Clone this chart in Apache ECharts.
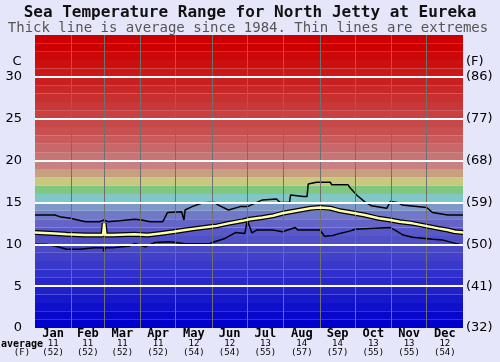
<!DOCTYPE html>
<html><head><meta charset="utf-8">
<script src="https://cdn.jsdelivr.net/npm/echarts@6/dist/echarts.min.js"></script>
<style>html,body{margin:0;padding:0;background:#e6e6fa}#c{width:500px;height:362px}</style>
</head><body><div id="c"></div>
<script>
// ---- data ----
const months = ['Jan','Feb','Mar','Apr','May','Jun','Jul','Aug','Sep','Oct','Nov','Dec'];
const monthDays = [31,28,31,30,31,30,31,31,30,31,30,31];
const avgC = [11,11,11,11,12,12,13,14,14,13,13,12];
const avgF = [52,52,52,52,54,54,55,57,57,55,55,54];
const leftTicks = [0,5,10,15,20,25,30];
const rightTicks = ['(32)','(41)','(50)','(59)','(68)','(77)','(86)'];

const avgDays = [0,17,27,43,58,59,60,66,85,96,107,118,128,138,149,155,165,177,183,194,203,211,223,235,243,252,260,269,281,293,303,311,322,333,344,352,358,365];
const avgTemps = [11.4,11.3,11.2,11.1,11.1,12.5,11.1,11.1,11.2,11.1,11.3,11.5,11.7,11.9,12.1,12.2,12.5,12.8,13.0,13.2,13.4,13.7,14.0,14.3,14.4,14.3,14.0,13.8,13.5,13.1,12.9,12.7,12.5,12.2,11.9,11.7,11.5,11.4];

const maxDays = [0,17,21,30,43,55,59,62,72,85,91,98,109,113,125,126,127,128,134,142,148,153,156,165,175,181,194,206,209,217,218,229,232,233,240,252,253,267,269,275,281,287,300,303,309,313,334,339,352,365];
const maxTemps = [13.5,13.5,13.3,13.1,12.7,12.7,12.9,12.7,12.8,13.0,12.9,12.7,12.7,13.8,13.9,13.9,12.9,14.1,14.5,14.9,15.0,15.0,14.7,14.1,14.5,14.5,15.3,15.4,15.0,15.0,15.9,15.7,15.7,17.2,17.4,17.4,17.1,17.1,16.7,15.8,15.1,14.6,14.3,15.1,15.0,14.7,14.4,13.8,13.5,13.5];

const minDays = [0,9,17,27,38,51,58,59,60,66,81,85,94,102,115,128,148,153,162,171,179,181,185,189,203,211,222,224,243,247,254,260,269,273,303,307,314,322,339,348,356,365];
const minTemps = [10.0,10.0,9.8,9.4,9.4,9.6,9.6,9.1,9.6,9.6,9.8,10.1,9.7,10.2,10.3,10.05,10.05,10.3,10.7,11.4,11.3,12.9,11.35,11.7,11.7,11.5,12.0,11.7,11.7,10.95,11.05,11.3,11.6,11.8,12.0,11.7,11.1,10.85,10.6,10.5,10.2,9.9];

// background band colours, one per degree C (0..34)
const bandColors = ['#0000cc','#0808cc','#1010cc','#1818cc','#2020cc','#2828ca','#3030ca','#3838ca','#4040c8','#4848c8','#5050c8','#5858c8','#6464c8','#7078c8','#7c98c8','#80c8c8','#80c880','#c8c880','#c8a080','#c88080','#c87474','#c86868','#c85c5c','#c85050','#c84848','#c84040','#c83838','#c83030','#c82828','#c82020','#cc1818','#cc1010','#cc0808','#cc0000','#cc0000'];

// ---- build ----
const monthStarts = [];
const monthMids = [];
let acc = 0;
monthDays.forEach(d => { monthStarts.push(acc); monthMids.push(acc + d/2); acc += d; });

const zip = (a,b) => a.map((v,i)=>[v,b[i]]);
const bandAreas = bandColors.map((c,i)=>[{yAxis:i,itemStyle:{color:c}},{yAxis:i+1}]);

const chart = echarts.init(document.getElementById('c'), null, {renderer:'canvas'});
chart.setOption({
  animation:false,
  backgroundColor:'#e6e6fa',
  grid:{left:35,right:37,top:35,bottom:34},
  xAxis:{type:'value',min:0,max:365,
    axisLine:{show:false},axisTick:{show:false},splitLine:{show:false},
    axisLabel:{customValues:monthMids,margin:1,interval:0,
      formatter:function(v){const i=monthMids.indexOf(v);return '{m|'+months[i]+'}\n{n|'+avgC[i]+'}\n{n|('+avgF[i]+')}';},
      rich:{m:{fontFamily:'DejaVu Sans Mono',fontWeight:'bold',fontSize:12,lineHeight:10,color:'#000'},
            n:{fontFamily:'DejaVu Sans Mono',fontSize:9,lineHeight:9,color:'#000'}}}},
  yAxis:[
    {type:'value',min:0,max:35,interval:5,axisLine:{show:false},axisTick:{show:false},splitLine:{show:false},
     axisLabel:{margin:13,fontFamily:'DejaVu Sans',fontSize:13,color:'#000',
       formatter:function(v){return leftTicks.indexOf(v)>=0?String(v):'';}}},
    {type:'value',min:0,max:35,interval:5,position:'right',axisLine:{show:false},axisTick:{show:false},splitLine:{show:false},
     axisLabel:{margin:3,fontFamily:'DejaVu Sans',fontSize:13,color:'#000',
       formatter:function(v){const i=leftTicks.indexOf(v);return i>=0?rightTicks[i]:'';}}}
  ],
  series:[
    {type:'line',data:[[0,0]],symbol:'none',lineStyle:{opacity:0},silent:true,z:1,
     markArea:{silent:true,data:bandAreas}},
    {type:'line',data:[[0,0]],symbol:'none',lineStyle:{opacity:0},silent:true,z:2,
     markLine:{silent:true,symbol:'none',label:{show:false},
       data:monthStarts.slice(1).map(d=>({xAxis:d,lineStyle:{color:'#707070',width:1,type:'solid'}}))
         .concat(leftTicks.slice(1).map(t=>({yAxis:t,lineStyle:{color:'#ffffff',width:2,type:'solid'}})))}},
    {type:'line',data:zip(maxDays,maxTemps),symbol:'none',lineStyle:{color:'#000',width:1.5},z:3},
    {type:'line',data:zip(minDays,minTemps),symbol:'none',lineStyle:{color:'#000',width:1.5},z:3},
    {type:'line',data:zip(avgDays,avgTemps),symbol:'none',lineStyle:{color:'#000',width:5},z:4},
    {type:'line',data:zip(avgDays,avgTemps),symbol:'none',lineStyle:{color:'#ffffa8',width:2.5},z:5}
  ],
  graphic:[
    {type:'text',x:250,y:13,style:{text:'Sea Temperature Range for North Jetty at Eureka',fontFamily:'DejaVu Sans Mono',fontWeight:'bold',fontSize:16,fill:'#111',align:'center',verticalAlign:'middle'}},
    {type:'text',x:248,y:28,style:{text:'Thick line is average since 1984. Thin lines are extremes',fontFamily:'DejaVu Sans Mono',fontSize:14,fill:'#555',align:'center',verticalAlign:'middle'}},
    {type:'text',x:17,y:62,style:{text:'C',fontFamily:'DejaVu Sans',fontSize:13,fill:'#000',align:'center',verticalAlign:'middle'}},
    {type:'text',x:466,y:62,style:{text:'(F)',fontFamily:'DejaVu Sans',fontSize:13,fill:'#000',align:'left',verticalAlign:'middle'}},
    {type:'text',x:22,y:344,style:{text:'average',fontFamily:'DejaVu Sans Mono',fontWeight:'bold',fontSize:10,fill:'#000',align:'center',verticalAlign:'middle'}},
    {type:'text',x:22,y:353,style:{text:'(F)',fontFamily:'DejaVu Sans Mono',fontSize:9,fill:'#000',align:'center',verticalAlign:'middle'}}
  ]
});
</script></body></html>
